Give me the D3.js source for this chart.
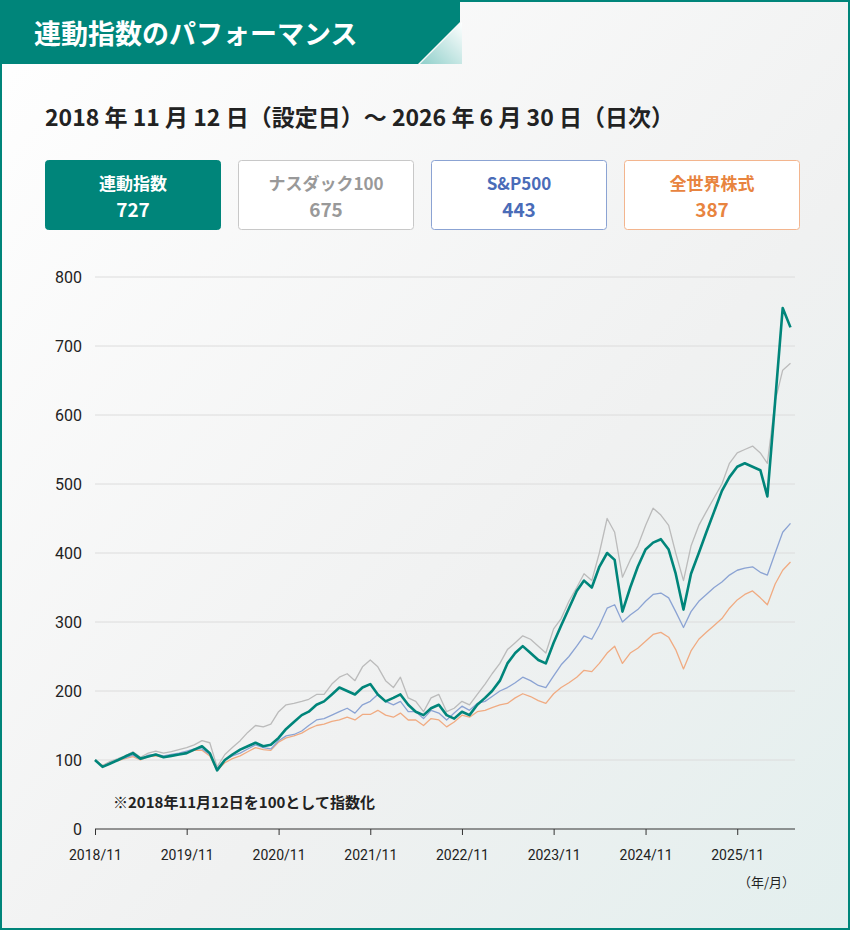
<!DOCTYPE html>
<html><head><meta charset="utf-8">
<script src="https://cdn.jsdelivr.net/npm/d3@7"></script>
<style>body{margin:0;font-family:"Noto Sans CJK JP","Noto Sans",sans-serif}</style>
</head><body><div id="chart"></div>
<script>
// monthly values, 2018/11 .. 2026/6
startYear = 2018, startMonth = 11
rengou = [100,90,
 95,100,105,110,102,105,108,104,106,108,110,115,
 120,110,85,100,108,115,120,125,120,122,132,145,
 155,165,170,180,185,195,205,200,195,205,210,195,
 185,190,195,180,170,165,175,180,165,160,170,165,
 180,190,200,215,240,255,265,255,245,240,270,295,
 320,345,360,350,380,400,390,315,350,380,405,415,
 420,405,370,318,370,400,430,460,490,510,525,530,
 525,520,482,620,755,727]
nasdaq = [100,92,
 98,102,106,112,104,110,113,110,112,115,118,122,
 128,125,90,108,118,128,140,150,148,152,170,180,
 182,185,188,195,195,210,220,225,215,235,245,235,
 215,205,220,190,185,170,190,195,170,175,185,180,
 195,210,225,240,260,270,280,275,265,255,290,305,
 330,350,370,360,400,450,430,365,390,410,440,465,
 455,440,400,360,410,440,460,480,500,530,545,550,
 555,545,530,620,665,675]
sp500 = [100,91,
 97,100,103,107,101,107,108,106,108,110,113,116,
 116,108,88,100,106,110,116,122,118,116,128,135,
 137,142,150,158,160,165,170,175,168,180,185,195,
 185,180,185,170,170,160,172,168,158,168,178,172,
 182,185,192,200,205,212,220,215,208,205,222,238,
 250,265,280,275,295,320,325,300,310,318,330,340,
 342,335,315,292,315,330,340,350,358,368,375,378,
 380,372,368,400,430,443]
world = [100,92,
 97,99,102,105,100,105,106,104,106,108,111,114,
 114,106,85,96,102,106,112,118,115,114,126,132,
 135,139,145,150,152,156,158,162,158,166,166,172,
 165,162,168,158,158,150,160,158,148,155,165,162,
 170,172,176,180,182,190,196,192,186,182,196,205,
 212,220,230,228,240,255,265,240,255,262,272,282,
 285,278,260,232,258,275,285,295,305,320,332,340,
 345,335,325,355,375,387]
yTicks = [0,100,200,300,400,500,600,700,800]
xTickLabels = ["2018/11","2019/11","2020/11","2021/11","2022/11","2023/11","2024/11","2025/11"]
legendNames = ["連動指数","ナスダック100","S&P500","全世界株式"]
legendValues = ["727","675","443","387"]

W = 850, H = 930
svg = d3.select("#chart").append("svg").attr("width", W).attr("height", H)
defs = svg.append("defs")
g1 = defs.append("linearGradient").attr("id","bg").attr("x1","0").attr("y1","0").attr("x2","1").attr("y2","1")
g1.append("stop").attr("offset","0").attr("stop-color","#ffffff")
g1.append("stop").attr("offset","0.6").attr("stop-color","#f0f1f1")
g1.append("stop").attr("offset","1").attr("stop-color","#e3efee")
g2 = defs.append("linearGradient").attr("id","slant").attr("x1","0").attr("y1","1").attr("x2","1").attr("y2","0")
g2.append("stop").attr("offset","0").attr("stop-color","#8fcfca")
g2.append("stop").attr("offset","1").attr("stop-color","#ffffff")

svg.append("rect").attr("x",1).attr("y",1).attr("width",W-2).attr("height",H-2)
  .attr("fill","url(#bg)").attr("stroke","#00857a").attr("stroke-width",2)
svg.append("path").attr("d","M420,64 L462,22 L462,64 Z").attr("fill","url(#slant)")
svg.append("path").attr("d","M0,0 L460,0 L460,22 L418,64 L0,64 Z").attr("fill","#00857a")
svg.append("text").attr("x",34).attr("y",44).attr("fill","#fff").attr("font-size",27)
  .attr("font-weight","bold").text("連動指数のパフォーマンス")
svg.append("text").attr("x",45).attr("y",126).attr("fill","#222").attr("font-size",23)
  .attr("font-weight","bold").text("2018 年 11 月 12 日（設定日）〜 2026 年 6 月 30 日（日次）")

lineColors = ["#00857a","#bbbbbb","#8ba3d3","#f0ab82"]
textColors = ["#ffffff","#999999","#4a6cb8","#e8843f"]
borderColors = ["#00857a","#c8c8c8","#8ba3d3","#f3b58e"]
legendX = [45,238,431,624]
legendNames.forEach(function(n,i){
  var gg = svg.append("g").attr("transform","translate("+legendX[i]+",160)")
  gg.append("rect").attr("x",0.5).attr("y",0.5).attr("width",175).attr("height",69).attr("rx",3)
    .attr("fill", i==0 ? "#00857a" : "#fff").attr("stroke",borderColors[i])
  gg.append("text").attr("x",88).attr("y",30).attr("text-anchor","middle").attr("font-size",17)
    .attr("font-weight","bold").attr("fill",textColors[i]).text(n)
  gg.append("text").attr("x",88).attr("y",57).attr("text-anchor","middle").attr("font-size",19)
    .attr("font-weight","bold").attr("fill",textColors[i]).text(legendValues[i])
})

function dateOf(i){ return new Date(startYear, startMonth-1+i, 12) }
x = d3.scaleTime().domain([new Date(2018,10,12), new Date(2026,5,30)]).range([95,795])
y = d3.scaleLinear().domain([0,800]).range([829,277])

svg.append("g").selectAll("line").data(yTicks.slice(1)).enter().append("line")
  .attr("x1",95).attr("x2",795).attr("y1",d=>y(d)).attr("y2",d=>y(d))
  .attr("stroke","#dcdcdc").attr("stroke-width",1)
svg.append("g").selectAll("text").data(yTicks).enter().append("text")
  .attr("x",82).attr("y",d=>y(d)+6).attr("text-anchor","end").attr("font-size",16)
  .attr("fill","#222").attr("font-family","Roboto, sans-serif").text(d=>d)

xTicks = xTickLabels.map(function(s){ var p=s.split("/"); return new Date(+p[0], +p[1]-1, 12) })
xAxis = d3.axisBottom(x).tickValues(xTicks).tickSize(6).tickFormat(function(d,i){ return xTickLabels[i] })
ax = svg.append("g").attr("transform","translate(0,829)").call(xAxis)
ax.select(".domain").attr("stroke","#333").attr("d","M95,0H795")
ax.selectAll(".tick line").attr("stroke","#333")
ax.selectAll(".tick text").attr("font-size",14).attr("fill","#222").attr("dy","1.6em")
  .attr("font-family","Roboto, sans-serif")
svg.append("text").attr("x",795).attr("y",887).attr("text-anchor","end").attr("font-size",13)
  .attr("fill","#222").text("（年/月）")

line = d3.line().x((d,i)=>x(dateOf(i))).y(d=>y(d))
series = [[world,3,1.3],[sp500,2,1.3],[nasdaq,1,1.3],[rengou,0,2.6]]
series.forEach(function(s){
  svg.append("path").datum(s[0]).attr("d",line).attr("fill","none")
    .attr("stroke",lineColors[s[1]]).attr("stroke-width",s[2]).attr("stroke-linejoin","round")
})

svg.append("text").attr("x",113).attr("y",808).attr("font-size",15).attr("font-weight","bold")
  .attr("fill","#222").text("※2018年11月12日を100として指数化")
</script></body></html>
